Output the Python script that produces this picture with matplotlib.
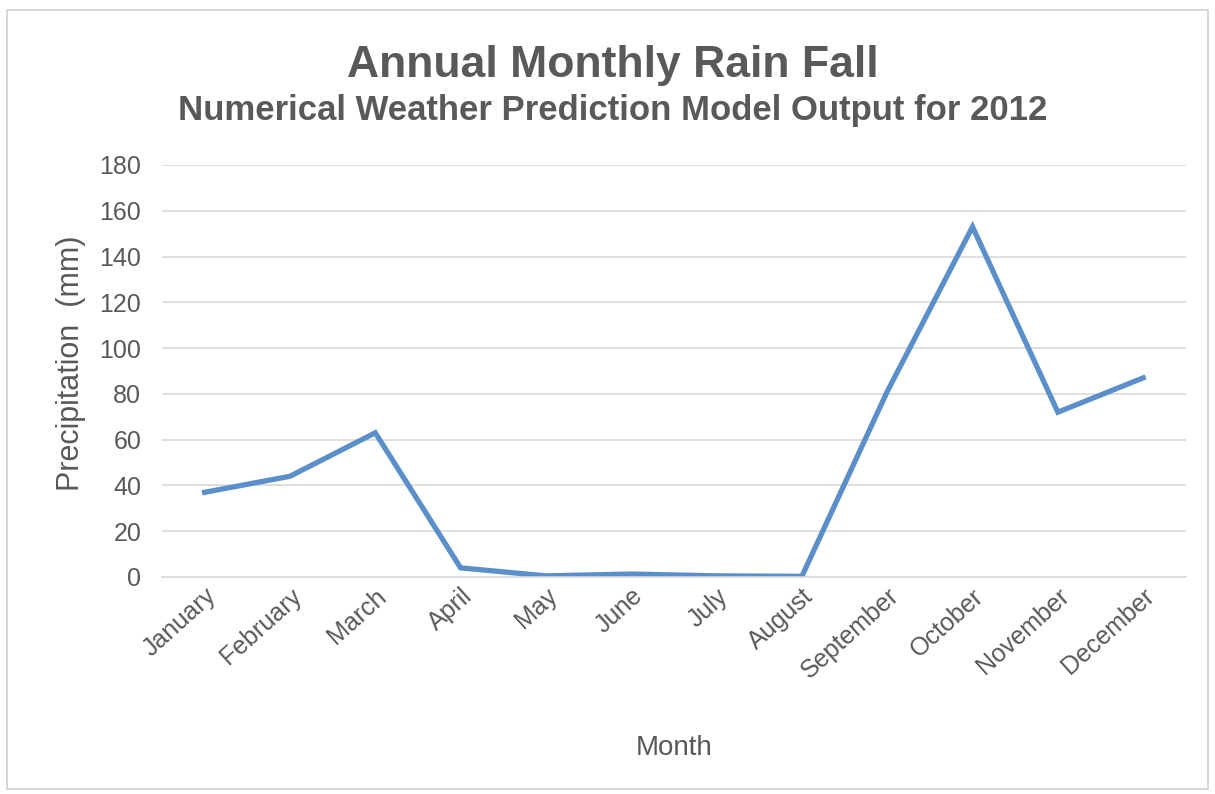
import matplotlib.pyplot as plt
from matplotlib.patches import Rectangle

# monthly precipitation
months = ['January', 'February', 'March', 'April', 'May', 'June',
          'July', 'August', 'September', 'October', 'November', 'December']
rain_mm = [37, 44, 63, 4, 0.5, 1.3, 0.5, 0.3, 81, 153, 72, 87]
y_ticks = [0, 20, 40, 60, 80, 100, 120, 140, 160, 180]

text_color = '#595959'
line_color = '#5b8fc9'
plt.rcParams['font.family'] = ['Liberation Sans', 'DejaVu Sans']

fig = plt.figure(figsize=(12.15, 7.94), dpi=100)
fig.patches.append(Rectangle((0.006, 0.006), 0.988, 0.982, transform=fig.transFigure,
                             fill=False, edgecolor='#d0d0d0', linewidth=1.2))

ax = fig.add_axes([0.1333, 0.2733, 0.8427, 0.5189])
x = list(range(len(months)))
ax.plot(x, rain_mm, color=line_color, linewidth=3.8, solid_joinstyle='miter')

ax.set_xlim(-0.5, len(months) - 0.5)
ax.set_ylim(0, 180)
ax.set_yticks(y_ticks)
ax.set_xticks(x)
ax.set_xticklabels(months, rotation=42, ha='right', rotation_mode='anchor')
ax.grid(axis='y', color='#d9d9d9', linewidth=1.2)
ax.set_axisbelow(True)
for side in ['top', 'right', 'left']:
    ax.spines[side].set_visible(False)
ax.spines['bottom'].set_color('#d9d9d9')
ax.spines['bottom'].set_linewidth(1.2)
ax.tick_params(length=0, labelsize=18, labelcolor=text_color)
ax.tick_params(axis='y', pad=15)
ax.tick_params(axis='x', pad=5)

ax.set_ylabel('Precipitation  (mm)', fontsize=22, color=text_color)
ax.yaxis.set_label_coords(-0.074, 0.52)
ax.set_xlabel('Month', fontsize=20, color=text_color, labelpad=37)

fig.text(0.504, 0.917, 'Annual Monthly Rain Fall', ha='center', va='center',
         fontsize=32, fontweight='bold', color=text_color)
fig.text(0.504, 0.861, 'Numerical Weather Prediction Model Output for 2012', ha='center',
         va='center', fontsize=25, fontweight='bold', color=text_color)

fig.savefig('out.png', dpi=100, facecolor='white')
